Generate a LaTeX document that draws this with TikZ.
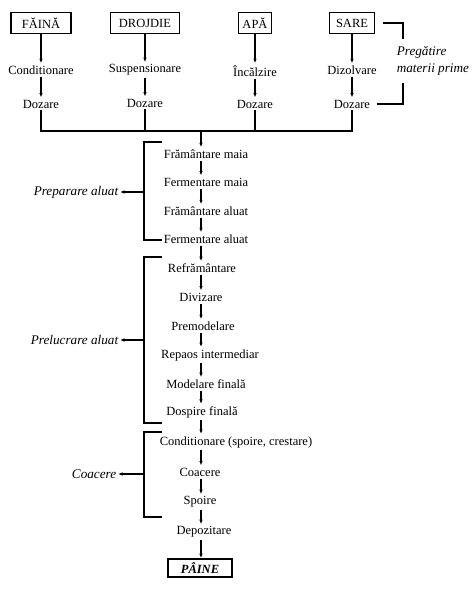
\documentclass[tikz,border=0pt]{standalone}
\usepackage{fontspec}
\setmainfont{Liberation Serif}
\usetikzlibrary{arrows.meta}

\begin{document}
\begin{tikzpicture}[x=1pt, y=-1pt, line width=1.6pt,
	font=\fontsize{12.5}{15}\selectfont,
	materie/.style={draw, line width=1.6pt, minimum height=21pt, inner sep=1pt},
	etapa/.style={inner xsep=1pt, inner ysep=1.5pt},
	faza/.style={font=\fontsize{13.2}{17}\selectfont\itshape, inner sep=1pt},
	arr/.style={-{Latex[length=4.5pt,width=3.5pt]}, line width=1.3pt}]
	\useasboundingbox (0,0) rectangle (474,592);

	% materii prime
	\node (faina) [materie, minimum width=60pt] at (41,23) {FĂINĂ};
	\node (drojdie) [materie, minimum width=69pt] at (145,23) {DROJDIE};
	\node (apa) [materie, minimum width=33pt] at (255,23) {APĂ};
	\node (sare) [materie, minimum width=45pt] at (352,23) {SARE};

	\node (cond) [etapa] at (41,70) {Conditionare};
	\node (susp) [etapa] at (145,70) {Suspensionare};
	\node (inc) [etapa] at (255,71) {Încălzire};
	\node (diz) [etapa] at (352,70) {Dizolvare};

	\node (doz1) [etapa] at (41,104) {Dozare};
	\node (doz2) [etapa] at (145,103) {Dozare};
	\node (doz3) [etapa] at (255,104) {Dozare};
	\node (doz4) [etapa] at (352,104) {Dozare};

	\draw[arr] (faina) -- (cond);
	\draw[arr] (drojdie) -- (susp);
	\draw[arr] (apa) -- (inc);
	\draw[arr] (sare) -- (diz);
	\draw[arr] (cond) -- (doz1);
	\draw[arr] (susp) -- (doz2);
	\draw[arr] (inc) -- (doz3);
	\draw[arr] (diz) -- (doz4);

	% pregatire
	\node (pmp) [faza, anchor=west, align=left, inner ysep=7pt] at (395,61) {Pregătire\\materii prime};
	\coordinate (pb) at (403,0);
	\draw ([xshift=8pt]sare.east) -| (pmp.north -| pb);
	\draw ([xshift=5pt]doz4.east) -| (pmp.south -| pb);

	% colector
	\coordinate (bus) at (201,131);
	\coordinate (trunk) at (201,0);
	\draw (doz1.south) |- (bus) -| (doz4.south);
	\draw (doz2.south) -- (doz2.south |- bus);
	\draw (doz3.south) -- (doz3.south |- bus);

	% fluxul tehnologic
	\node (fm1) [etapa] at (206,154) {Frământare maia};
	\node (fm2) [etapa] at (206,182) {Fermentare maia};
	\node (fa1) [etapa] at (206,211) {Frământare aluat};
	\node (fa2) [etapa] at (206,239) {Fermentare aluat};
	\node (rf) [etapa] at (202,268) {Refrământare};
	\node (dv) [etapa] at (201,297) {Divizare};
	\node (pm) [etapa] at (203,326) {Premodelare};
	\node (ri) [etapa] at (210,355) {Repaos intermediar};
	\node (mf) [etapa] at (206,384) {Modelare finală};
	\node (df) [etapa] at (202,412) {Dospire finală};
	\node (cd) [etapa, anchor=west] at (158,442) {Conditionare (spoire, crestare)};
	\node (cc) [etapa] at (200,472) {Coacere};
	\node (sp) [etapa] at (200,502) {Spoire};
	\node (dp) [etapa] at (204,532) {Depozitare};
	\node (paine) [materie, minimum width=64pt, minimum height=18pt, font=\fontsize{12.5}{15}\selectfont\bfseries\itshape] at (200,568) {PÂINE};

	\draw[arr] (bus) -- (fm1.north -| trunk);
	\draw[arr] (fm1.south -| trunk) -- (fm2.north -| trunk);
	\draw[arr] (fm2.south -| trunk) -- (fa1.north -| trunk);
	\draw[arr] (fa1.south -| trunk) -- (fa2.north -| trunk);
	\draw[arr] (fa2.south -| trunk) -- (rf.north -| trunk);
	\draw[arr] (rf.south -| trunk) -- (dv.north -| trunk);
	\draw[arr] (dv.south -| trunk) -- (pm.north -| trunk);
	\draw[arr] (pm.south -| trunk) -- (ri.north -| trunk);
	\draw[arr] (ri.south -| trunk) -- (mf.north -| trunk);
	\draw[arr] (mf.south -| trunk) -- (df.north -| trunk);
	\draw[arr] (df.south -| trunk) -- (cd.north -| trunk);
	\draw[arr] (cd.south -| trunk) -- (cc.north -| trunk);
	\draw[arr] (cc.south -| trunk) -- (sp.north -| trunk);
	\draw[arr] (sp.south -| trunk) -- (dp.north -| trunk);
	\draw[arr] (dp.south -| trunk) -- (paine.north -| trunk);

	% faze
	\node (prep) [faza, anchor=east] at (120,192) {Preparare aluat};
	\node (prel) [faza, anchor=east] at (120,340) {Prelucrare aluat};
	\node (coac) [faza, anchor=east] at (118,474) {Coacere};

	\draw (162,142) -- (144,142) -- (144,240) -- (162,240);
	\draw (162,257) -- (144,257) -- (144,423) -- (162,423);
	\draw (162,432) -- (144,432) -- (144,517) -- (162,517);
	\draw[arr] (144,192) -- (prep.east);
	\draw[arr] (144,340) -- (prel.east);
	\draw[arr] (144,474) -- (coac.east);

\end{tikzpicture}
\end{document}
